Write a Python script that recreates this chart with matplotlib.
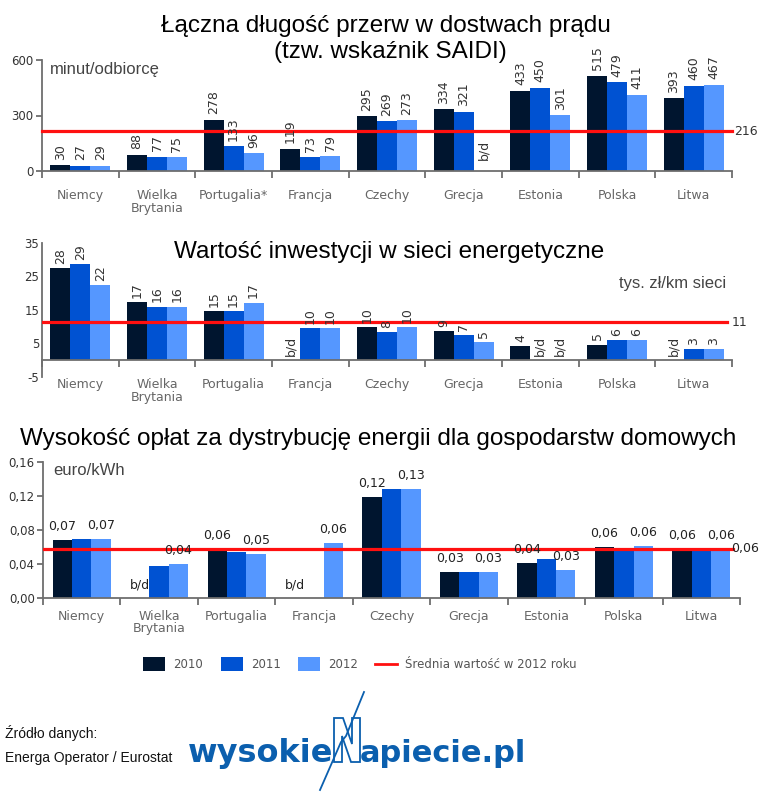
import matplotlib
matplotlib.use('Agg')
import matplotlib.pyplot as plt
import numpy as np
from matplotlib.font_manager import fontManager
from matplotlib.patches import Rectangle, Polygon
from matplotlib.lines import Line2D

# ---------------- data ----------------
countries_saidi = ['Niemcy', 'Wielka\nBrytania', 'Portugalia*', 'Francja', 'Czechy',
                   'Grecja', 'Estonia', 'Polska', 'Litwa']
countries = ['Niemcy', 'Wielka\nBrytania', 'Portugalia', 'Francja', 'Czechy',
             'Grecja', 'Estonia', 'Polska', 'Litwa']
years = ['2010', '2011', '2012']

saidi_2010 = [30, 88, 278, 119, 295, 334, 433, 515, 393]
saidi_2011 = [27, 77, 133, 73, 269, 321, 450, 479, 460]
saidi_2012 = [29, 75, 96, 79, 273, None, 301, 411, 467]
saidi_avg = 216

inv_2010 = [27.6, 17.4, 14.6, None, 9.8, 8.7, 4.3, 4.7, None]
inv_2011 = [28.6, 16.0, 14.6, 9.6, 8.3, 7.4, None, 6.1, 3.4]
inv_2012 = [22.4, 16.0, 17.2, 9.6, 9.9, 5.4, None, 6.1, 3.4]
inv_avg = 11.3

fee_2010 = [0.068, None, 0.058, None, 0.119, 0.0302, 0.0408, 0.0596, 0.0573]
fee_2011 = [0.0698, 0.0373, 0.0545, None, 0.1279, 0.0302, 0.0459, 0.0576, 0.0573]
fee_2012 = [0.0698, 0.0404, 0.0514, 0.0647, 0.128, 0.0302, 0.0326, 0.0615, 0.0573]
fee_avg = 0.058

colors = ['#00152f', '#0052d2', '#5597ff']
red = '#ff1010'
spine_c = '#6e6e6e'

W, H = 768, 798
fig = plt.figure(figsize=(W / 100, H / 100), dpi=100)
fig.patch.set_facecolor('white')


def ax_rect(left, right, top, bottom):
    return [left / W, 1 - bottom / H, (right - left) / W, (bottom - top) / H]


def fmt_comma(v, nd=2):
    return f"{v:.{nd}f}".replace('.', ',')


def setup(ax, xlabels, ylim, yticks, yticklabels, pad, ytick_len=4, zero_spine=False):
    if zero_spine:
        ax.spines['bottom'].set_position(('data', 0))
    ax.set_xlim(-0.5, 8.5)
    ax.set_ylim(*ylim)
    for s in ['top', 'right']:
        ax.spines[s].set_visible(False)
    for s in ['left', 'bottom']:
        ax.spines[s].set_color(spine_c)
        ax.spines[s].set_linewidth(1.3)
    ax.set_xticks(range(len(xlabels)))
    ax.set_xticklabels(xlabels, fontsize=9, color='#666666', linespacing=0.95,
                       family='DejaVu Sans')
    ax.set_xticks(np.arange(-0.5, len(xlabels), 1), minor=True)
    ax.tick_params(axis='x', which='major', length=0, pad=pad)
    ax.tick_params(axis='x', which='minor', length=5, width=1.3, color=spine_c,
                   direction='out')
    ax.set_yticks(yticks)
    ax.set_yticklabels(yticklabels, family='DejaVu Sans')
    ax.tick_params(axis='y', length=ytick_len, width=1.3, color=spine_c,
                   labelsize=8.5, labelcolor='#333333', pad=2)
    ax.set_facecolor('none')


def draw_bars(ax, series, width):
    offs = [-width, 0, width]
    x = np.arange(len(series[0]))
    for vals, off, c in zip(series, offs, colors):
        h = [v if v is not None else 0 for v in vals]
        ax.bar(x + off, h, width=width, color=c, linewidth=0, zorder=2)
    return x, offs


# ---------------- chart 1: SAIDI ----------------
ax1 = fig.add_axes(ax_rect(42, 732, 60, 171))
setup(ax1, countries_saidi, (0, 600), [0, 300, 600], ['0', '300', '600'], pad=13)
s1 = [saidi_2010, saidi_2011, saidi_2012]
x, offs = draw_bars(ax1, s1, 0.26)
for vals, off in zip(s1, offs):
    for xi, v in zip(x, vals):
        if v is None:
            ax1.annotate('b/d', (xi + off, 0), xytext=(0, 8), textcoords='offset points',
                         rotation=90, ha='center', va='bottom', fontsize=9,
                         color='#333333', family='DejaVu Sans', zorder=5)
        else:
            ax1.annotate(f"{v:.0f}", (xi + off, v), xytext=(0, 4),
                         textcoords='offset points', rotation=90, ha='center',
                         va='bottom', fontsize=9, color='#333333',
                         family='DejaVu Sans', zorder=5, annotation_clip=False)
ax1.axhline(saidi_avg, color=red, lw=2.3, zorder=3, clip_on=False)
ax1.text(1.003, saidi_avg, f"{saidi_avg}", transform=ax1.get_yaxis_transform(),
         ha='left', va='center', fontsize=9, color='#333333', family='DejaVu Sans')

# ---------------- chart 2: investments ----------------
ax2 = fig.add_axes(ax_rect(42, 732, 243, 377))
setup(ax2, countries, (-5, 35), [-5, 5, 15, 25, 35], ['-5', '5', '15', '25', '35'],
      pad=13, ytick_len=0, zero_spine=True)
s2 = [inv_2010, inv_2011, inv_2012]
x, offs = draw_bars(ax2, s2, 0.26)
for vals, off in zip(s2, offs):
    for xi, v in zip(x, vals):
        if v is None:
            ax2.annotate('b/d', (xi + off, 0), xytext=(0, 3), textcoords='offset points',
                         rotation=90, ha='center', va='bottom', fontsize=9,
                         color='#333333', family='DejaVu Sans', zorder=5)
        else:
            ax2.annotate(f"{v:.0f}", (xi + off, v), xytext=(0, 3),
                         textcoords='offset points', rotation=90, ha='center',
                         va='bottom', fontsize=9, color='#333333',
                         family='DejaVu Sans', zorder=5, annotation_clip=False)
ax2.axhline(inv_avg, color=red, lw=2.3, zorder=3, xmax=0.993)
ax2.text(0.999, inv_avg, f"{inv_avg:.0f}", transform=ax2.get_yaxis_transform(),
         ha='left', va='center', fontsize=9, color='#333333', family='DejaVu Sans')

# ---------------- chart 3: distribution fees ----------------
ax3 = fig.add_axes(ax_rect(43, 740, 461.7, 598))
setup(ax3, countries, (0, 0.16), [0, 0.04, 0.08, 0.12, 0.16],
      [fmt_comma(v) for v in [0, 0.04, 0.08, 0.12, 0.16]], pad=8.5)
s3 = [fee_2010, fee_2011, fee_2012]
x, offs = draw_bars(ax3, s3, 0.25)
for si, (vals, off) in enumerate(zip(s3, offs)):
    if si == 1:
        continue
    for xi, v in zip(x, vals):
        if v is None:
            ax3.annotate('b/d', (xi + off, 0), xytext=(0, 5), textcoords='offset points',
                         ha='center', va='bottom', fontsize=9, color='#222222',
                         family='DejaVu Sans', zorder=5)
        else:
            ax3.annotate(fmt_comma(v), (xi + off, v), xytext=(0, 5),
                         textcoords='offset points', ha='center', va='bottom',
                         fontsize=9, color='#222222', family='DejaVu Sans', zorder=5)
ax3.axhline(fee_avg, color=red, lw=2.3, zorder=3, xmax=0.99)
ax3.text(0.987, fee_avg, fmt_comma(fee_avg), transform=ax3.get_yaxis_transform(),
         ha='left', va='center', fontsize=9, color='#222222', family='DejaVu Sans',
         zorder=6)

# ---------------- overlay: titles, units, legend, source, logo ----------------
ov = fig.add_axes([0, 0, 1, 1])
ov.set_xlim(0, W)
ov.set_ylim(H, 0)
ov.axis('off')

tkw = dict(family='Liberation Sans', fontsize=17.5, color='#000000', ha='center',
           va='baseline')
ov.text(386, 32, 'Łączna długość przerw w dostwach prądu', **tkw)
ov.text(390, 58, '(tzw. wskaźnik SAIDI)', **tkw)
ov.text(389, 258, 'Wartość inwestycji w sieci energetyczne', **tkw)
ov.text(378, 445, 'Wysokość opłat za dystrybucję energii dla gospodarstw domowych', **tkw)

ukw = dict(family='Liberation Sans', fontsize=12, color='#444444', va='baseline')
ov.text(50, 74, 'minut/odbiorcę', ha='left', **ukw)
ov.text(726, 288, 'tys. zł/km sieci', ha='right', **ukw)
ov.text(53, 475, 'euro/kWh', ha='left', **ukw)

# legend
leg_y = 664
sq = [(143, colors[0], years[0]), (221, colors[1], years[1]), (298, colors[2], years[2])]
for x0, c, lab in sq:
    ov.add_patch(Rectangle((x0, leg_y - 7), 22, 14, color=c, lw=0))
    ov.text(x0 + 30, leg_y, lab, ha='left', va='center', fontsize=8.5,
            color='#555555', family='DejaVu Sans')
ov.add_line(Line2D([375, 397], [leg_y, leg_y], color=red, lw=2))
ov.text(405, leg_y, 'Średnia wartość w 2012 roku', ha='left', va='center',
        fontsize=8.5, color='#555555', family='DejaVu Sans')

# source
names = {f.name for f in fontManager.ttflist}
if 'Liberation Sans Narrow' in names:
    src_fam, src_size = 'Liberation Sans Narrow', 11.5
else:
    src_fam, src_size = 'Liberation Sans', 10
ov.text(5, 738, 'Źródło danych:', ha='left', va='baseline', fontsize=src_size,
        family=src_fam, color='#111111')
ov.text(5, 762, 'Energa Operator / Eurostat', ha='left', va='baseline',
        fontsize=src_size, family=src_fam, color='#111111')

# logo
logo_c = '#0b5fae'
ov.text(333, 762, 'wysokie', ha='right', va='baseline', fontsize=23,
        weight='bold', family='DejaVu Sans', color=logo_c)
ov.text(360, 762, 'apiecie.pl', ha='left', va='baseline', fontsize=22,
        weight='bold', family='DejaVu Sans', color=logo_c)
n_shape = [(334, 762), (334, 718), (343, 718), (352, 744), (352, 718), (360, 718),
           (360, 762), (351, 762), (342, 736), (342, 762)]
ov.add_patch(Polygon(n_shape, closed=True, facecolor='white', edgecolor=logo_c, lw=1.3))
ov.add_line(Line2D([364, 346, 341, 320], [692, 736, 742, 790], color=logo_c, lw=1.3))

fig.savefig('out.png', dpi=100)
